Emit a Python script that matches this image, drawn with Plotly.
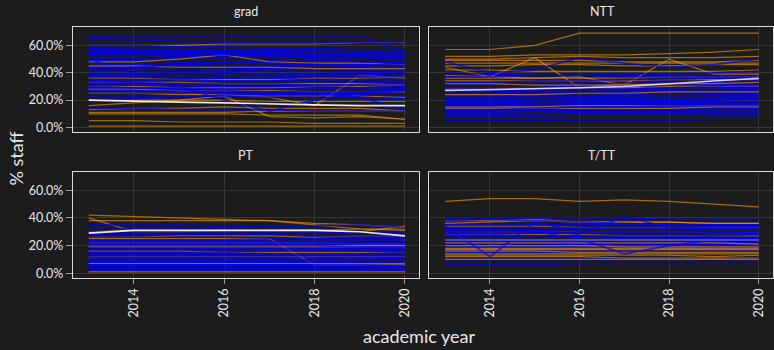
import plotly.graph_objects as go

years = [2013, 2014, 2015, 2016, 2017, 2018, 2019, 2020]

grad_blue = [
    [67,67,67,67,67,67,67,55],[65,64,63,62,62,62,62,62],[60,60,59,59,58,58,57,57],
    [57,57,56,56,56,56,55,55],[55,55,55,54,54,53,53,52],[53,53,52,52,52,51,51,50],
    [51,50,50,50,49,49,48,48],[49,49,48,47,47,46,46,45],[50,40,23,40,45,46,44,48],
    [47,46,46,45,44,44,43,43],[45,45,44,44,43,43,42,42],[43,43,42,42,41,41,40,40],
    [41,41,40,40,39,39,38,40],[39,39,38,38,38,37,37,37],[37,37,36,36,36,35,35,35],
    [35,35,35,34,34,34,33,33],[33,33,32,32,32,31,31,31],[31,31,31,30,30,30,29,30],
    [29,29,29,28,28,28,28,28],[27,27,27,26,26,26,26,25],[25,25,25,25,24,24,24,23],
    [23,23,23,23,22,22,22,21],[35,33,30,20,12,20,25,28],[14,14,13,13,13,12,12,12],
    [30,29,28,27,26,25,22,13],[58,57,57,56,55,50,48,47],[42,44,46,47,47,46,45,46],
    [20,21,22,24,24,25,26,27],[54,54,53,53,53,52,52,52],[56,56,55,55,55,54,54,54],
]
grad_orange = [
    [60,60,60,61,61,61,62,62],[1,1,1,1,1,1,1,1],[5,5,4,4,4,3,3,3],
    [10,10,10,10,9,9,9,6],[13,14,14,15,14,14,14,12],[16,18,20,23,8,7,8,6],
    [25,25,25,24,22,16,38,36],[48,48,50,53,48,47,47,46],[25,25,24,24,23,23,23,22],
    [28,28,27,27,27,26,26,26],[30,30,29,29,29,30,30,31],[33,33,33,32,32,32,32,31],
    [36,36,35,35,35,36,36,37],[20,20,20,20,19,19,19,19],[11,11,11,11,12,12,12,12],
    [45,45,44,44,44,43,43,43],
]
grad_white = [20,19,18.5,18,17,16.5,16,16]

ntt_blue = [
    [5,5,5,5,5,5,6,6],[8,8,8,9,9,9,9,9],[10,10,10,11,11,11,11,11],
    [12,12,12,13,13,13,13,14],[14,14,14,14,15,15,15,15],[15,15,16,16,16,17,17,17],
    [17,17,17,18,18,18,19,19],[18,18,19,19,20,20,20,21],[20,20,20,21,21,22,22,23],
    [21,21,22,22,23,23,24,24],[22,22,23,23,24,25,25,26],[24,24,24,25,25,26,26,27],
    [25,25,26,26,27,27,28,29],[27,27,27,28,28,29,30,30],[29,29,29,30,30,31,31,32],
    [31,31,31,32,32,33,33,34],[33,33,34,34,35,35,36,36],[48,40,42,51,47,44,46,50],
    [37,37,38,38,39,39,40,41],[40,39,38,38,37,37,37,37],[13,13,14,15,15,16,16,16],
    [19,19,19,20,20,20,21,21],[16,16,17,17,17,18,18,18],[11,11,12,12,12,12,13,13],
]
ntt_orange = [
    [57,57,60,69,69,69,69,69],[52,52,53,53,53,54,55,57],[50,50,51,52,51,51,51,52],
    [49,49,49,49,48,48,48,49],[47,47,47,47,47,47,47,47],[45,45,46,46,45,45,46,46],
    [44,37,51,29,32,31,30,30],[38,37,36,37,31,50,39,39],[42,42,41,41,41,41,41,42],
    [36,36,36,36,36,37,37,37],[34,34,34,34,34,35,35,35],[28,28,29,29,29,30,30,30],
    [24,24,24,25,25,26,26,26],[15,15,15,16,16,16,16,16],[14,14,14,14,14,14,15,15],
    [32,32,31,31,31,32,32,33],
]
ntt_white = [27,27.5,28,29,30,32,34,36]

pt_blue = [
    [2,2,2,2,2,2,2,2],[3,3,3,3,3,3,3,3],[4,4,4,4,4,4,4,4],[5,5,5,5,5,5,5,5],
    [6,6,6,6,6,6,6,5],[7,7,7,7,7,7,7,7],[8,8,8,8,8,8,8,8],[9,9,9,9,9,9,10,10],
    [10,10,10,10,10,10,10,11],[12,12,12,12,12,12,12,12],[13,13,13,13,13,13,13,13],
    [14,14,14,14,14,14,14,15],[15,15,15,15,16,16,16,16],[17,17,17,17,17,17,17,17],
    [18,18,18,18,18,18,18,18],[20,20,20,20,20,20,19,19],[21,21,21,21,21,21,21,21],
    [22,22,22,22,22,22,22,22],[24,24,24,24,23,23,23,23],[26,26,26,26,25,25,25,25],
    [28,28,28,28,28,27,27,27],[30,30,30,30,30,30,29,29],[32,32,32,32,31,30,30,30],
    [35,35,35,34,34,34,35,33],
]
pt_orange = [
    [42,41,40,39,38,36,35,33],[40,30,30,31,31,31,30,34],[25,25,25,25,25,6,6,6],
    [26,26,27,27,27,26,27,27],[30,31,31,31,31,31,32,32],[1,1,1,1,1,1,1,1],
    [12,12,12,12,12,12,12,12],[19,19,19,19,19,19,19,19],[20,20,20,20,20,20,20,20],
    [7,7,7,7,7,7,7,7],[16,16,16,15,15,15,15,15],[38,38,38,38,38,35,32,31],
    [22,22,22,22,22,22,21,21],
]
pt_white = [29,31,31,31,31,31,30,27]

ttt_blue = [
    [6,6,6,7,7,7,7,7],[10,10,10,10,11,11,11,11],[15,15,15,15,15,15,16,16],
    [17,17,17,17,17,18,18,18],[19,19,19,19,19,19,20,20],[20,20,20,21,21,21,21,21],
    [22,22,22,22,22,22,22,22],[23,23,23,23,23,23,24,24],[24,24,24,24,25,25,25,25],
    [26,26,26,26,26,26,26,26],[27,27,27,27,27,27,27,28],[28,28,29,29,29,29,29,29],
    [30,30,30,30,30,30,30,30],[31,31,31,32,32,32,32,32],[33,33,33,33,33,33,33,33],
    [35,35,35,35,35,35,34,34],[38,39,38,37,36,35,35,35],[40,40,40,40,40,39,39,39],
    [34,12,37,30,30,30,29,29],[30,30,31,28,41,33,32,32],[32,32,30,25,14,20,24,25],
]
ttt_orange = [
    [52,54,54,52,53,52,50,48],[36,37,38,37,37,37,36,36],[38,38,39,37,37,37,36,36],
    [34,34,34,33,33,33,33,33],[30,30,30,30,30,30,29,29],[28,28,28,28,27,27,27,27],
    [20,20,20,20,19,19,19,19],[17,17,17,17,17,17,17,17],[16,16,16,15,15,15,15,15],
    [14,14,14,14,14,14,14,14],[13,13,13,13,13,13,12,13],[12,12,12,12,11,11,11,11],
    [10,10,10,10,10,10,10,10],[18,18,18,18,18,18,18,18],[22,22,22,22,22,22,22,21],
]
ttt_white = [24,24,24,24,24,24,24,24]

panels = [
    ("grad", grad_blue, grad_orange, grad_white, "x", "y", 0.9),
    ("NTT", ntt_blue, ntt_orange, ntt_white, "x2", "y2", 0.8),
    ("PT", pt_blue, pt_orange, pt_white, "x3", "y3", 0.9),
    ("T/TT", ttt_blue, ttt_orange, ttt_white, "x4", "y4", 0.35),
]

BLUE = "rgba(0,0,255,0.7)"
ORANGE = "rgba(255,160,0,0.6)"

fig = go.Figure()
for name, blue, orange, white, xa, ya, wop in panels:
    n = max(len(blue), len(orange))
    for i in range(n):
        if i < len(blue):
            fig.add_trace(go.Scatter(x=years, y=blue[i], mode="lines", xaxis=xa, yaxis=ya,
                                     line=dict(color=BLUE, width=1.7), showlegend=False, hoverinfo="skip"))
        if i < len(orange):
            fig.add_trace(go.Scatter(x=years, y=orange[i], mode="lines", xaxis=xa, yaxis=ya,
                                     line=dict(color=ORANGE, width=1.2), showlegend=False, hoverinfo="skip"))
    fig.add_trace(go.Scatter(x=years, y=white, mode="lines", xaxis=xa, yaxis=ya, opacity=wop,
                             line=dict(color="white", width=1.6), showlegend=False, hoverinfo="skip"))

W, H = 774, 350
BG = "#1c1c1c"
GRID = "#363636"
TXT = "#e8e8e8"
FONT = "Lato"

xl = [73 / W, 420 / W]
xr = [430 / W, 1.0]
yt = [1 - 133 / H, 1 - 27 / H]
yb = [1 - 280 / H, 1 - 173 / H]

yticks = [0, 20, 40, 60]
ytext = ["0.0%", "20.0%", "40.0%", "60.0%"]
xticks = [2014, 2016, 2018, 2020]

def xax(domain, anchor, bottom):
    return dict(domain=domain, anchor=anchor, range=[2012.65, 2020.32],
                tickvals=xticks, ticktext=[str(v) for v in xticks],
                showticklabels=bottom, ticks="outside" if bottom else "",
                ticklen=5, tickcolor="#9a9a9a", tickangle=-90,
                tickfont=dict(family=FONT, size=12.5, color=TXT),
                showgrid=True, gridcolor=GRID, gridwidth=1, zeroline=False,
                showline=True, mirror=True, linecolor="#dcdcdc", linewidth=1)

def yax(domain, anchor, left):
    return dict(domain=domain, anchor=anchor, range=[-3.2, 73.6],
                tickvals=yticks, ticktext=ytext,
                showticklabels=left, ticks="outside" if left else "",
                ticklen=6, tickcolor="#9a9a9a",
                tickfont=dict(family=FONT, size=12.5, color=TXT),
                showgrid=True, gridcolor=GRID, gridwidth=1, zeroline=False,
                showline=True, mirror=True, linecolor="#dcdcdc", linewidth=1)

annotations = []
strip_pos = [("grad", (xl[0] + xl[1]) / 2, 1 - 12 / H), ("NTT", (xr[0] + 776 / W) / 2, 1 - 12 / H),
             ("PT", (xl[0] + xl[1]) / 2, 1 - 157 / H), ("T/TT", (xr[0] + 776 / W) / 2, 1 - 157 / H)]
for t, x, y in strip_pos:
    annotations.append(dict(text=t, x=x, y=y, xref="paper", yref="paper", showarrow=False,
                            xanchor="center", yanchor="middle",
                            font=dict(family=FONT, size=12.5, color=TXT)))
annotations.append(dict(text="% staff", x=16 / W, y=1 - 160 / H, xref="paper", yref="paper",
                        showarrow=False, textangle=-90, xanchor="center", yanchor="middle",
                        font=dict(family=FONT, size=18, color=TXT)))
annotations.append(dict(text="academic year", x=420 / W, y=1 - 339 / H, xref="paper", yref="paper",
                        showarrow=False, xanchor="center", yanchor="middle",
                        font=dict(family=FONT, size=18, color=TXT)))

fig.update_layout(
    width=W, height=H, margin=dict(l=0, r=0, t=0, b=0),
    paper_bgcolor=BG, plot_bgcolor=BG, showlegend=False,
    xaxis=xax(xl, "y", False), yaxis=yax(yt, "x", True),
    xaxis2=xax(xr, "y2", False), yaxis2=yax(yt, "x2", False),
    xaxis3=xax(xl, "y3", True), yaxis3=yax(yb, "x3", True),
    xaxis4=xax(xr, "y4", True), yaxis4=yax(yb, "x4", False),
    annotations=annotations,
)

fig.write_html("out.html", config={"displayModeBar": False},
               post_script="document.body.style.margin='0px';document.body.style.overflow='hidden';document.body.style.background='#1c1c1c';")
